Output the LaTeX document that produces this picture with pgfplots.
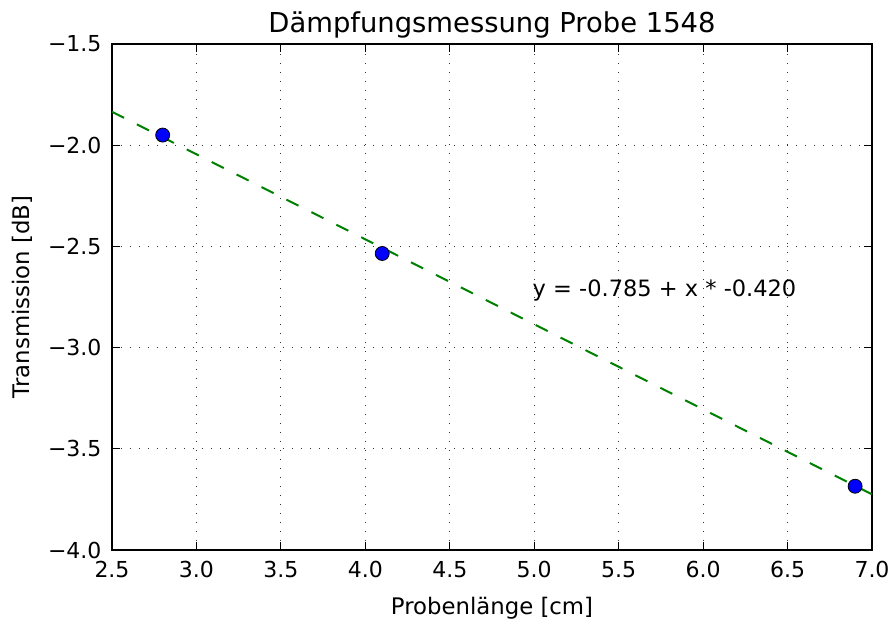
\documentclass[border=0pt]{standalone}
\usepackage{fontspec}
\setmainfont{DejaVu Sans}
\usepackage{pgfplots}
\pgfplotsset{compat=1.18}
\begin{document}
\begin{tikzpicture}
\begin{axis}[
  scale only axis,
  width=760pt, height=506pt,
  xmin=2.5, xmax=7.0, ymin=-4.0, ymax=-1.5,
  xtick={2.5,3.0,3.5,4.0,4.5,5.0,5.5,6.0,6.5,7.0},
  xticklabels={2.5,3.0,3.5,4.0,4.5,5.0,5.5,6.0,6.5,7.0},
  ytick={-4.0,-3.5,-3.0,-2.5,-2.0,-1.5},
  yticklabels={−4.0,−3.5,−3.0,−2.5,−2.0,−1.5},
  tick align=inside,
  major tick length=8pt,
  tick style={black, line width=1pt},
  axis line style={black, line width=1.6pt},
  grid=major,
  grid style={black!80, line width=1.1pt, dash pattern=on 1.3pt off 7.7pt},
  ticklabel style={font=\fontsize{22}{26}\selectfont},
  xticklabel style={yshift=-8pt},
  yticklabel style={xshift=-7pt},
  title={Dämpfungsmessung Probe 1548},
  title style={font=\fontsize{27.4}{32}\selectfont, yshift=-4pt},
  xlabel={Probenlänge [cm]},
  ylabel={Transmission [dB]},
  label style={font=\fontsize{22.8}{27}\selectfont},
  xlabel style={yshift=-12pt},
  ylabel style={yshift=9pt},
  clip=true,
]
\addplot[only marks, mark=*, mark size=7pt, mark options={fill=blue, draw=black, line width=0.8pt}]
  coordinates {(2.8,-1.950) (4.1,-2.535) (6.9,-3.685)};
\addplot[color={rgb,1:red,0;green,0.5;blue,0}, line width=2pt, dash pattern=on 13.5pt off 14.4pt]
  coordinates {(2.5,-1.835) (7.0,-3.725)};
\node[anchor=west, font=\fontsize{22.5}{26}\selectfont, inner sep=0pt] at (axis cs:4.99,-2.72) {y = -0.785 + x * -0.420};
\end{axis}
\pgfresetboundingbox
\path[use as bounding box] (current axis.south west) ++(-112pt,-69pt) rectangle ([shift={(20pt,44pt)}]current axis.north east);
\end{tikzpicture}
\end{document}
